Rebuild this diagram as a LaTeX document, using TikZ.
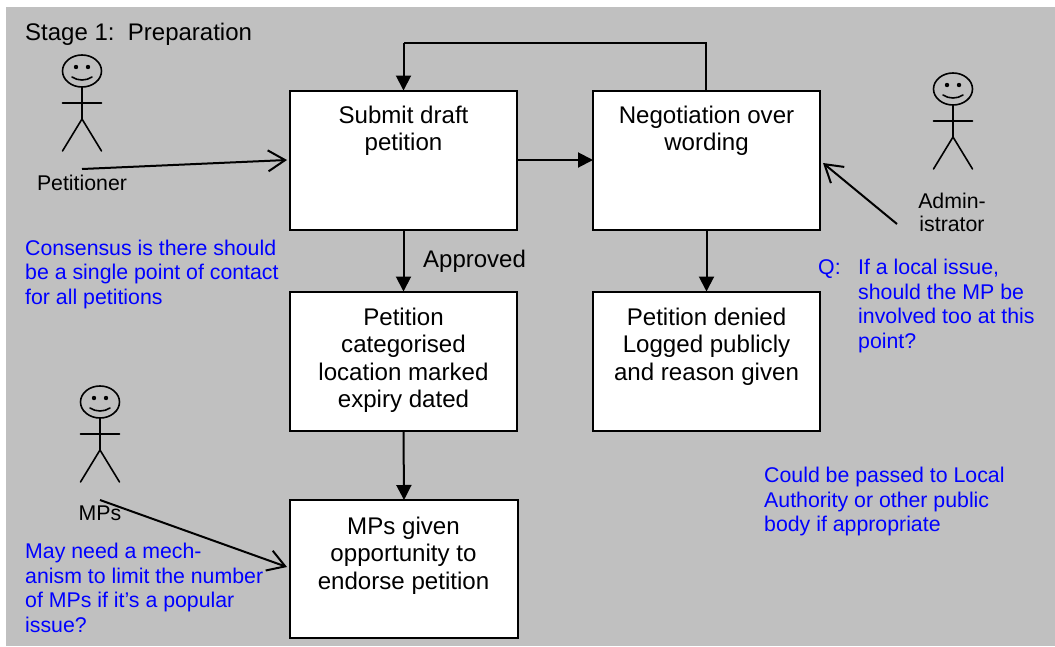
\documentclass[tikz,border=0pt]{standalone}
\usepackage{fontspec}
\setmainfont{Liberation Sans}
\usetikzlibrary{arrows.meta}
\definecolor{bggrey}{RGB}{192,192,192}
\definecolor{noteblue}{RGB}{0,0,255}
\tikzset{
  x=1pt,y=-1pt,
  boxnode/.style={draw=black,line width=2pt,fill=white,anchor=north west,inner sep=0pt,outer sep=0pt},
  boxtext/.style={anchor=north,align=center,font=\fontsize{24.1}{27.5}\selectfont,inner sep=0pt},
  actortext/.style={align=center,font=\fontsize{21.3}{23.5}\selectfont,inner sep=0pt},
  notetext/.style={anchor=north west,align=left,text=noteblue,font=\fontsize{21.3}{24.5}\selectfont,inner sep=0pt},
  flow/.style={line width=2pt,-{Triangle[length=15pt,width=15pt]}},
  openflow/.style={line width=2pt,-{Straight Barb[length=17pt,width=21pt,line width=2pt]}},
  figline/.style={line width=1.6pt,line cap=round},
  pics/stick/.style={code={
    \draw[figline] (0,0) ellipse[x radius=19.5pt,y radius=16pt];
    \fill (-6,-4) circle[radius=2.2pt] (6,-4) circle[radius=2.2pt];
    \draw[figline] (-10,6) .. controls (-4,10) and (4,10) .. (10,6);
    \draw[figline] (0,16) -- (0,48) (-19.5,32) -- (19.5,32) (-19.5,80) -- (0,48) -- (19.5,80);
  }}
}
\begin{document}
\begin{tikzpicture}
\useasboundingbox (0,0) rectangle (1055,646);
\fill[bggrey] (6,7) rectangle (1055,646);

\node[boxnode,minimum width=227pt,minimum height=139pt] (submit) at (290,90.5) {};
\node[boxnode,minimum width=227pt,minimum height=139pt] (negot) at (593,90.5) {};
\node[boxnode,minimum width=227pt,minimum height=139pt] (categ) at (290,291.5) {};
\node[boxnode,minimum width=227pt,minimum height=139pt] (denied) at (593,291.5) {};
\node[boxnode,minimum width=228pt,minimum height=138pt] (endorse) at (290,500) {};

\node[boxtext] (t1) at (403.5,105.5) {Submit draft\\petition};
\node[boxtext] (t2) at (706.5,105.5) {Negotiation over\\wording};
\node[boxtext] (t3) at (403.5,307.5) {Petition\\categorised\\location marked\\expiry dated};
\node[boxtext] (t4) at (706.5,307.5) {Petition denied\\Logged publicly\\and reason given};
\node[boxtext] (t5) at (403.5,516.5) {MPs given\\opportunity to\\endorse petition};

\node[anchor=north west,inner sep=0pt,font=\fontsize{24}{27}\selectfont] (stage) at (25,23) {Stage 1:\ \ Preparation};
\node[anchor=north west,inner sep=0pt,font=\fontsize{24}{27}\selectfont] (appr) at (423,250) {Approved};

\pic at (82,71) {stick};
\pic at (100,402) {stick};
\pic at (953,89) {stick};

\node[actortext] (petitioner) at (82,183) {Petitioner};
\node[actortext] (mps) at (100,513) {MPs};
\node[actortext] (admin) at (952,212.5) {Admin-\\istrator};

\node[notetext] (n1) at (25,239.5) {Consensus is there should\\be a single point of contact\\for all petitions};
\node[notetext] (n2) at (25,543) {May need a mech-\\anism to limit the number\\of MPs if it’s a popular\\issue?};
\node[notetext] (n3a) at (818,259) {Q:};
\node[notetext] (n3) at (858,259) {If a local issue,\\should the MP be\\involved too at this\\point?};
\node[notetext] (n4) at (764,467) {Could be passed to Local\\Authority or other public\\body if appropriate};

\coordinate (fromPet) at (82,169);
\coordinate (toPet) at (287,160);
\coordinate (fromMP) at (100,500);
\coordinate (toMP) at (287,567);
\coordinate (fromAd) at (897,224);
\coordinate (toAd) at (823,163);
\coordinate (loopA) at (706,43);
\coordinate (loopB) at (403.5,43);

\draw[openflow] (fromPet) -- (toPet);
\draw[openflow] (fromMP) -- (toMP);
\draw[openflow] (fromAd) -- (toAd);
\draw[line width=2pt] (negot.north -| loopA) -- (loopA) -- (loopB);
\draw[flow] (loopB) -- (submit.north);
\draw[flow] (submit.east |- 0,160) -- (negot.west |- 0,160);
\draw[flow] (submit.south) -- (categ.north);
\draw[flow] (negot.south) -- (denied.north);
\draw[flow] (categ.south) -- (endorse.north);
\end{tikzpicture}
\end{document}
